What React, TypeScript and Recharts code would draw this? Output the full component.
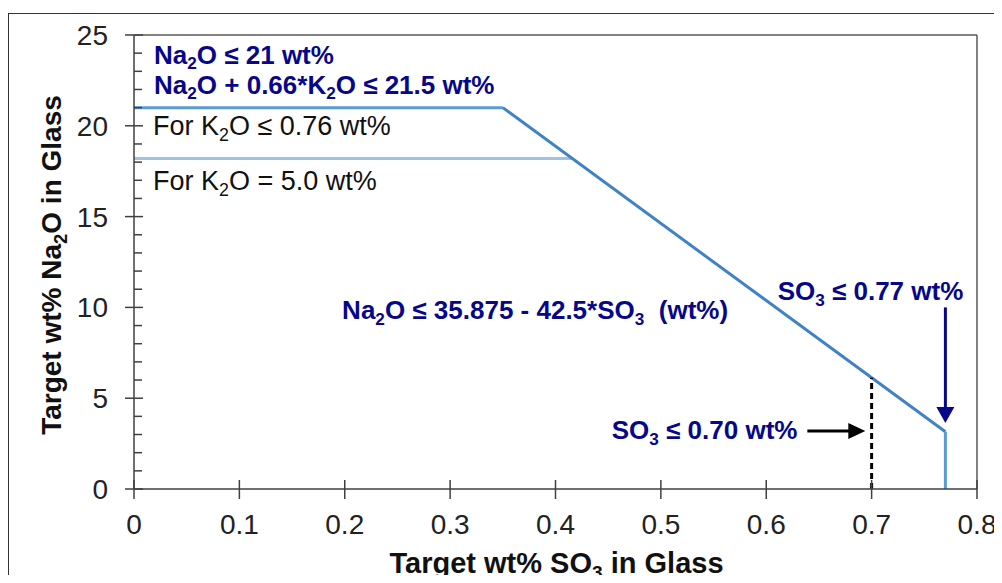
import { ComposedChart, Line, XAxis, YAxis, ReferenceLine, ReferenceDot, Label } from 'recharts';

const FONT = '"Liberation Sans", Arial, sans-serif';
const NAVY = '#07078A';

// x = target SO3 wt%, y = target Na2O wt%
const na2oCap = [{ x: 0, y: 21 }, { x: 0.35, y: 21 }];
const so3Slope = [{ x: 0.35, y: 21 }, { x: 0.77, y: 3.15 }];
const so3Cap = [{ x: 0.77, y: 3.15 }, { x: 0.77, y: 0 }];
const k2oHigh = [{ x: 0, y: 18.2 }, { x: 0.416, y: 18.2 }];
const so3Limit070 = [{ x: 0.7, y: 0 }, { x: 0.7, y: 6.125 }];

// annotation arrows
const blackArrow = [{ x: 0.639, y: 3.2 }, { x: 0.68, y: 3.2 }];
const blackArrowTip = { x: 0.694, y: 3.2 };
const navyArrow = [{ x: 0.77, y: 10 }, { x: 0.77, y: 4.4 }];
const navyArrowTip = { x: 0.77, y: 3.64 };

const xTicks = [0, 0.1, 0.2, 0.3, 0.4, 0.5, 0.6, 0.7, 0.8];
const yTicks = [0, 1, 2, 3, 4, 5, 6, 7, 8, 9, 10, 11, 12, 13, 14, 15, 16, 17, 18, 19, 20, 21, 22, 23, 24, 25];
const yLabelled = [0, 5, 10, 15, 20, 25];

type Part = [string, boolean?];

const notes: { x: number; y: number; anchor: string; bold: boolean; size: number; parts: Part[] }[] = [
  { x: 0.019, y: 23.42, anchor: 'start', bold: true, size: 26, parts: [['Na'], ['2', true], ['O ≤ 21 wt%']] },
  { x: 0.019, y: 21.77, anchor: 'start', bold: true, size: 26, parts: [['Na'], ['2', true], ['O + 0.66*K'], ['2', true], ['O ≤ 21.5 wt%']] },
  { x: 0.018, y: 19.47, anchor: 'start', bold: false, size: 27, parts: [['For K'], ['2', true], ['O ≤ 0.76 wt%']] },
  { x: 0.018, y: 16.45, anchor: 'start', bold: false, size: 27, parts: [['For K'], ['2', true], ['O = 5.0 wt%']] },
  { x: 0.1975, y: 9.36, anchor: 'start', bold: true, size: 26, parts: [['Na'], ['2', true], ['O ≤ 35.875 - 42.5*SO'], ['3', true], ['  (wt%)']] },
  { x: 0.787, y: 10.4, anchor: 'end', bold: true, size: 26, parts: [['SO'], ['3', true], [' ≤ 0.77 wt%']] },
  { x: 0.6296, y: 2.76, anchor: 'end', bold: true, size: 26, parts: [['SO'], ['3', true], [' ≤ 0.70 wt%']] },
];

function rich(parts: Part[], size: number) {
  const shift = size * 0.22;
  return parts.map(([t, sub], i) => {
    const prevSub = i > 0 && parts[i - 1][1];
    if (sub) return <tspan key={i} fontSize={size * 0.66} dy={shift}>{t}</tspan>;
    return <tspan key={i} dy={prevSub ? -shift : 0} style={{ whiteSpace: 'pre' }}>{t}</tspan>;
  });
}

const XTick = (p: any) => (
  <g>
    <line x1={p.x} x2={p.x} y1={p.y - 9} y2={p.y + 10} stroke="#404040" strokeWidth={1.5} />
    <text x={p.x} y={p.y + 45} textAnchor="middle" fontFamily={FONT} fontSize={28} fill="#222">
      {String(p.payload.value)}
    </text>
  </g>
);

const YTick = (p: any) => {
  const v = p.payload.value;
  const major = yLabelled.includes(v);
  return (
    <g>
      <line x1={major ? p.x - 9 : p.x} x2={p.x + (major ? 9 : 8)} y1={p.y} y2={p.y} stroke="#404040" strokeWidth={1.5} />
      {major && (
        <text x={p.x - 26} y={p.y + 10} textAnchor="end" fontFamily={FONT} fontSize={28} fill="#222">
          {String(v)}
        </text>
      )}
    </g>
  );
};

const XTitle = (p: any) => {
  const vb = p.viewBox;
  return (
    <text x={vb.x + vb.width / 2 + 1} y={vb.y + 84} textAnchor="middle" fontFamily={FONT} fontSize={29} fontWeight="bold" fill="#111">
      {rich([['Target wt% SO'], ['3', true], [' in Glass']], 29)}
    </text>
  );
};

const YTitle = (p: any) => {
  const vb = p.viewBox;
  const cx = 53;
  const cy = vb.y + vb.height / 2 + 3;
  return (
    <text x={cx} y={cy} transform={`rotate(-90 ${cx} ${cy})`} textAnchor="middle" fontFamily={FONT} fontSize={28} fontWeight="bold" fill="#111">
      {rich([['Target wt% Na'], ['2', true], ['O in Glass']], 28)}
    </text>
  );
};

const lineProps = { type: 'linear' as const, dataKey: 'y', dot: false, activeDot: false, isAnimationActive: false };

export default function App() {
  return (
    <div style={{ position: 'relative', width: 994, height: 575, marginBottom: -8, overflow: 'hidden', background: '#fff' }}>
      <div style={{ position: 'absolute', left: 0, top: 5, width: 991, height: 700, border: '1.5px solid #333', boxSizing: 'border-box' }} />
      <div style={{ position: 'absolute', left: 0, top: 0 }}>
        <ComposedChart width={994} height={575} margin={{ top: 27, right: 25, left: 0, bottom: 8 }}>
          <XAxis
            type="number"
            dataKey="x"
            domain={[0, 0.8]}
            ticks={xTicks}
            interval={0}
            height={86}
            tickSize={0}
            tickMargin={0}
            tickLine={false}
            axisLine={{ stroke: '#404040', strokeWidth: 1.5 }}
            tick={XTick}
            allowDataOverflow
          >
            <Label content={XTitle} />
          </XAxis>
          <YAxis
            type="number"
            domain={[0, 25]}
            ticks={yTicks}
            interval={0}
            width={126}
            tickSize={0}
            tickMargin={0}
            tickLine={false}
            axisLine={{ stroke: '#404040', strokeWidth: 1.5 }}
            tick={YTick}
            allowDataOverflow
          >
            <Label content={YTitle} />
          </YAxis>
          <ReferenceLine y={25} stroke="#595959" strokeWidth={1.5} />
          <ReferenceLine x={0.8} stroke="#595959" strokeWidth={1.5} />

          <Line {...lineProps} data={k2oHigh} stroke="#9DC3E6" strokeWidth={3} />
          <Line {...lineProps} data={na2oCap} stroke="#5B9BD5" strokeWidth={3} />
          <Line {...lineProps} data={so3Slope} stroke="#3F83C4" strokeWidth={3} />
          <Line {...lineProps} data={so3Cap} stroke="#5B9BD5" strokeWidth={3} />
          <Line {...lineProps} data={so3Limit070} stroke="#000" strokeWidth={3} strokeDasharray="6 4" />
          <Line {...lineProps} data={blackArrow} stroke="#000" strokeWidth={3} />
          <Line {...lineProps} data={navyArrow} stroke={NAVY} strokeWidth={3} />

          <ReferenceDot
            x={blackArrowTip.x}
            y={blackArrowTip.y}
            r={1}
            shape={(p: any) => <polygon points={`${p.cx},${p.cy} ${p.cx - 17},${p.cy - 8} ${p.cx - 17},${p.cy + 8}`} fill="#000" />}
          />
          <ReferenceDot
            x={navyArrowTip.x}
            y={navyArrowTip.y}
            r={1}
            shape={(p: any) => <polygon points={`${p.cx},${p.cy} ${p.cx - 9},${p.cy - 16} ${p.cx + 9},${p.cy - 16}`} fill={NAVY} />}
          />

          {notes.map((n, i) => (
            <ReferenceDot
              key={i}
              x={n.x}
              y={n.y}
              r={1}
              shape={(p: any) => (
                <text
                  x={p.cx}
                  y={p.cy}
                  textAnchor={n.anchor}
                  fontFamily={FONT}
                  fontSize={n.size}
                  fontWeight={n.bold ? 'bold' : 'normal'}
                  fill={n.bold ? NAVY : '#111'}
                >
                  {rich(n.parts, n.size)}
                </text>
              )}
            />
          ))}
        </ComposedChart>
      </div>
    </div>
  );
}
